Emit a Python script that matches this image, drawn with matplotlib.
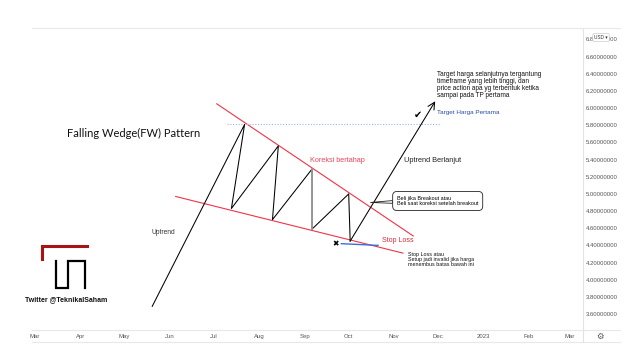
import matplotlib
matplotlib.use('Agg')
import matplotlib.pyplot as plt
import matplotlib.dates as mdates
from matplotlib.lines import Line2D
import datetime as dt

W, H = 640, 352

# zigzag inside the wedge (date, price)
path_dates = ['2022-05-20', '2022-07-22', '2022-07-13', '2022-08-14', '2022-08-10',
              '2022-09-06', '2022-09-06', '2022-10-01', '2022-10-02']
path_prices = [3.69, 5.81, 4.83, 5.56, 4.70, 5.29, 4.59, 5.00, 4.45]
target_date, target_price = '2022-11-29', 6.08

# wedge boundaries
upper_dates = ['2022-07-03', '2022-11-14']
upper_prices = [6.05, 4.51]
lower_dates = ['2022-06-05', '2022-11-07']
lower_prices = [4.97, 4.31]

# first target and stop loss
tp_dates = ['2022-07-10', '2022-12-03']
tp_price = 5.82
sl_dates = ['2022-09-26', '2022-10-21']
sl_prices = [4.42, 4.40]
cross_date, cross_price = '2022-09-22', 4.42
check_date, check_price = '2022-11-17', 5.92
breakout_date, breakout_price = '2022-10-14', 4.90

price_ticks = [3.6, 3.8, 4.0, 4.2, 4.4, 4.6, 4.8, 5.0, 5.2, 5.4, 5.6, 5.8,
               6.0, 6.2, 6.4, 6.6, 6.8]

# logo (pixels, y from top)
logo_red_x = [42, 42, 87]
logo_red_y = [259, 246, 246]
logo_blk_x = [56, 56, 68, 68, 85, 85]
logo_blk_y = [261, 288, 288, 261, 261, 288]


def d(s):
    return dt.datetime.strptime(s, '%Y-%m-%d')


def px(x, y):
    return (x, H - y)


fig = plt.figure(figsize=(W / 100, H / 100), dpi=100)
fig.patch.set_facecolor('white')
ax = fig.add_axes([32 / W, (H - 330) / H, (583 - 32) / W, (330 - 28.3) / H])
ax.set_xlim(d('2022-02-27'), dt.datetime(2023, 3, 9, 19))
ax.set_ylim(3.414, 6.93)

for s in ['top', 'left']:
    ax.spines[s].set_visible(False)
ax.spines['right'].set_color('#e3e3e3')
ax.spines['bottom'].set_color('#e8e8e8')
ax.spines['right'].set_linewidth(0.8)
ax.spines['bottom'].set_linewidth(0.8)

ax.xaxis.set_major_locator(mdates.MonthLocator())
ax.xaxis.set_major_formatter(
    plt.FuncFormatter(lambda v, p: mdates.num2date(v).strftime('%Y') if mdates.num2date(v).month == 1
                      else mdates.num2date(v).strftime('%b')))
ax.yaxis.tick_right()
ax.set_yticks(price_ticks)
ax.set_yticklabels(['%.8f' % v for v in price_ticks])
ax.tick_params(axis='both', length=0, labelsize=4.3, labelcolor='#555555')
ax.tick_params(axis='x', pad=3)
ax.tick_params(axis='y', pad=2.2)
for lab in ax.get_xticklabels() + ax.get_yticklabels():
    lab.set_family('Liberation Sans')

# frame lines outside the axes
for y in [28.3, 342]:
    fig.add_artist(Line2D([32 / W, 620 / W], [(H - y) / H] * 2, color='#e8e8e8', lw=0.8))
fig.add_artist(Line2D([583 / W] * 2, [(H - 330) / H, (H - 342) / H], color='#e3e3e3', lw=0.8))
fig.add_artist(Line2D([583 / W, 620 / W], [(H - 330) / H] * 2, color='#e8e8e8', lw=0.8))

red = '#ef3347'
ax.plot([d(s) for s in upper_dates], upper_prices, color=red, lw=0.8)
ax.plot([d(s) for s in lower_dates], lower_prices, color=red, lw=0.8)
ax.plot([d(s) for s in tp_dates], [tp_price] * 2, color='#9fb6e8', lw=0.8, ls=(0, (1, 1.5)))
ax.plot([d(s) for s in path_dates], path_prices, color='black', lw=0.75)
ax.plot([d(s) for s in path_dates[5:7]], path_prices[5:7], color='#9a9a9a', lw=1.3)
ax.plot([d(s) for s in sl_dates], sl_prices, color='#3b6de0', lw=1.0)
ax.annotate('', xy=(d(target_date), target_price), xytext=(d(path_dates[-1]), path_prices[-1]),
            arrowprops=dict(arrowstyle='->,head_length=0.5,head_width=0.25', color='black',
                            lw=0.75, shrinkA=0, shrinkB=0))
ax.text(d(cross_date), cross_price, '\u2716', fontsize=5.5, ha='center', va='center',
        family='DejaVu Sans', color='black')
ax.text(d(check_date), check_price, '\u2714', fontsize=7, ha='center', va='center',
        family='DejaVu Sans', color='black')

# texts
ff = 'Liberation Sans'
fig.text(67 / W, (H - 133) / H, 'Falling Wedge(FW) Pattern', fontsize=8.0, family='Lato',
         va='center', ha='left', color='#111111')
fig.text(152 / W, (H - 232) / H, 'Uptrend', fontsize=4.8, family=ff, va='center', color='#333333')
fig.text(310 / W, (H - 160) / H, 'Koreksi bertahap', fontsize=5.2, family=ff, va='center',
         color='#e8455a')
fig.text(404 / W, (H - 160) / H, 'Uptrend Berlanjut', fontsize=5.3, family=ff, va='center',
         color='#222222')
fig.text(437 / W, (H - 71) / H,
         'Target harga selanjutnya tergantung\ntimeframe yang lebih tinggi, dan\n'
         'price action apa yg terbentuk ketika\nsampai pada TP pertama',
         fontsize=4.7, family=ff, va='top', ha='left', linespacing=1.0, color='#111111')
fig.text(437 / W, (H - 112.5) / H, 'Target Harga Pertama', fontsize=4.6, family=ff,
         va='center', color='#2a4fa6')
ax.annotate('Beli jika Breakout atau\nBeli saat koreksi setelah breakout',
            xy=(d(breakout_date), breakout_price), xycoords='data',
            xytext=px(397, 201), textcoords='figure pixels',
            fontsize=3.9, family=ff, va='center', ha='left', linespacing=1.1,
            bbox=dict(boxstyle='round,pad=0.8,rounding_size=0.8', fc='white', ec='#222222', lw=0.6),
            arrowprops=dict(arrowstyle='wedge,tail_width=0.5,shrink_factor=0.5', fc='white',
                            ec='#222222', lw=0.6, shrinkA=0, shrinkB=2))
fig.text(382 / W, (H - 240) / H, 'Stop Loss', fontsize=5, family=ff, va='center',
         color='#d42a3c')
fig.text(408 / W, (H - 252) / H,
         'Stop Loss atau\nSetup jadi invalid jika harga\nmenembus batas bawah ini',
         fontsize=3.9, family=ff, va='top', ha='left', linespacing=1.05, color='#111111')

# logo and handle
fig.add_artist(Line2D([x / W for x in logo_red_x], [(H - y) / H for y in logo_red_y],
                      color='#a81414', lw=2.2, solid_joinstyle='miter'))
fig.add_artist(Line2D([x / W for x in logo_blk_x], [(H - y) / H for y in logo_blk_y],
                      color='black', lw=1.6, solid_joinstyle='miter'))
fig.text(66 / W, (H - 300) / H, 'Twitter @TeknikalSaham', fontsize=5, family=ff,
         fontweight='bold', ha='center', va='center', color='#111111')

# price scale widgets
fig.text(601 / W, (H - 37.5) / H, 'USD \u25be', fontsize=3.4, family=[ff, 'DejaVu Sans'],
         ha='center', va='center', color='#333333',
         bbox=dict(boxstyle='round,pad=0.3,rounding_size=0.3', fc='white', ec='#cccccc', lw=0.5))
fig.text(600 / W, (H - 336) / H, '\u2699', fontsize=6, family='DejaVu Sans', ha='center',
         va='center', color='#555555')

fig.savefig('out.png', dpi=100, facecolor='white')
